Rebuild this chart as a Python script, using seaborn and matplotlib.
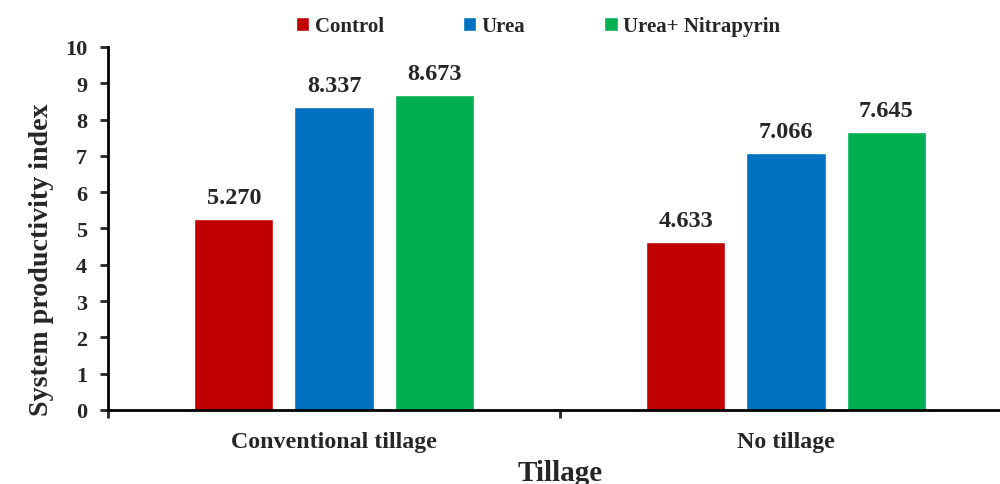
import matplotlib
matplotlib.use("Agg")
import matplotlib.pyplot as plt
import seaborn as sns
import pandas as pd

# Data
tillage = ["Conventional tillage", "No tillage"]
treatments = ["Control", "Urea", "Urea+ Nitrapyrin"]
control = [5.270, 4.633]
urea = [8.337, 7.066]
urea_nitrapyrin = [8.673, 7.645]
y_ticks = list(range(0, 11))

colors = ["#C00000", "#0070C0", "#00B050"]

df = pd.DataFrame({
    "Tillage": tillage * 3,
    "Treatment": [t for t in treatments for _ in tillage],
    "SPI": control + urea + urea_nitrapyrin,
})

sns.set_theme(style="white")
plt.rcParams["font.family"] = ["Liberation Serif", "DejaVu Serif"]
plt.rcParams["font.weight"] = "bold"

fig = plt.figure(figsize=(10, 4.85), dpi=100)
ax = fig.add_axes([0.108, 0.1526, 0.904, 0.7485])

sns.barplot(data=df, x="Tillage", y="SPI", hue="Treatment",
            hue_order=treatments, palette=colors, width=0.664, gap=0.21,
            saturation=1, ax=ax, legend=True)

for cont in ax.containers:
    ax.bar_label(cont, fmt="%.3f", padding=8, fontsize=17.5, fontweight="bold")

ax.set_xlim(-0.5, 1.5)
ax.set_ylim(0, 10)
ax.set_yticks(y_ticks)
ax.set_yticklabels([str(v) for v in y_ticks], fontsize=16, fontweight="bold")
ax.set_xticks([0, 1])
ax.set_xticklabels(tillage, fontsize=17.2, fontweight="bold")
ax.tick_params(axis="x", length=0, pad=15)
ax.tick_params(axis="y", direction="out", length=6, width=2, left=True, pad=9)

# category boundary ticks
ax.set_xticks([-0.5, 0.5, 1.5], minor=True)
ax.tick_params(axis="x", which="minor", direction="out", length=6, width=2, bottom=True)

for s in ["top", "right"]:
    ax.spines[s].set_visible(False)
for s in ["left", "bottom"]:
    ax.spines[s].set_color("black")
    ax.spines[s].set_linewidth(2)

ax.set_xlabel("Tillage", fontsize=21, fontweight="bold", labelpad=5)
ax.set_ylabel("System productivity index", fontsize=20.2, fontweight="bold")
ax.yaxis.set_label_coords(-0.06, 0.416)

handles, labels = ax.get_legend_handles_labels()
ax.get_legend().remove()
fig.legend(handles, labels, loc="center", bbox_to_anchor=(0.538, 0.944), ncol=3,
           frameon=False, prop={"size": 15, "weight": "bold"},
           handlelength=0.65, handleheight=0.65, handletextpad=0.25,
           columnspacing=3.8)

fig.savefig("out.png", dpi=100)
